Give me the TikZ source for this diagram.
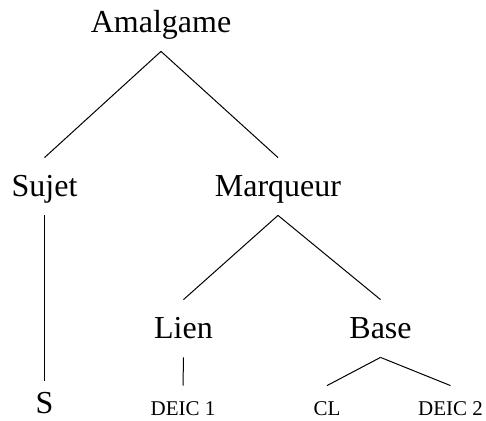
\documentclass[tikz,border=0pt]{standalone}
\usepackage{fontspec}
\setmainfont{Liberation Serif}
\usepackage{tikz}

\begin{document}
\begin{tikzpicture}[x=0.5pt, y=-0.5pt,
		cat/.style={black, inner sep=0pt, anchor=base, font=\fontsize{16}{19}\selectfont, text height=19.5pt, text depth=9pt},
		leaf/.style={black, inner sep=0pt, anchor=base, font=\fontsize{10.5}{12}\selectfont, text height=14.5pt, text depth=3pt}]
		\useasboundingbox (0, 0) rectangle (486, 421);
		
		% Categories
		\node[cat] (amal) at (161, 33) {Amalgame};
		\node[cat] (suj) at (44.5, 197) {Sujet};
		\node[cat] (marq) at (278, 197) {Marqueur};
		\node[cat] (lien) at (183.5, 339) {Lien};
		\node[cat] (base) at (380.5, 339) {Base};
		% Leaves
		\node[cat, text height=16pt, text depth=1pt] (s) at (44.5, 413) {S};
		\node[leaf] (deic1) at (183, 415) {DEIC 1};
		\node[leaf] (cl) at (327, 415) {CL};
		\node[leaf] (deic2) at (450.5, 415) {DEIC 2};
		% Connect
		\draw[line width=0.5pt] (amal.south) -- (suj.north);
		\draw[line width=0.5pt] (amal.south) -- (marq.north);
		\draw[line width=0.5pt] (suj.south) -- (s.north);
		\draw[line width=0.5pt] (marq.south) -- (lien.north);
		\draw[line width=0.5pt] (marq.south) -- (base.north);
		\draw[line width=0.5pt] (lien.south) -- (deic1.north);
		\draw[line width=0.5pt] (base.south) -- (cl.north);
		\draw[line width=0.5pt] (base.south) -- (deic2.north);
		
\end{tikzpicture}
\end{document}
